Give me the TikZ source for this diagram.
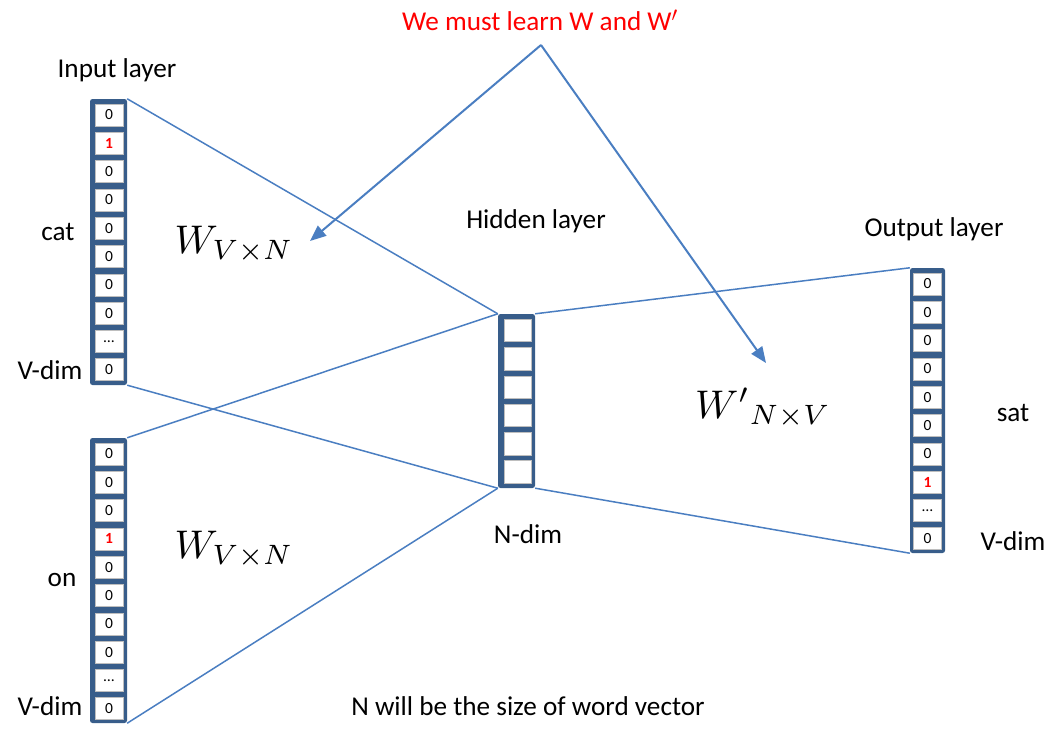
\documentclass[tikz,border=0pt]{standalone}
\usepackage{fontspec}
\setmainfont{Carlito}
\usetikzlibrary{arrows.meta}
\definecolor{vecblue}{RGB}{56,93,138}
\definecolor{linkblue}{RGB}{74,126,193}
\definecolor{cellgray}{RGB}{190,190,190}
\begin{document}
\begin{tikzpicture}[x=1pt,y=-1pt,
  lbl/.style={font=\fontsize{27.2}{32}\selectfont, inner sep=0},
  mathlbl/.style={font=\normalsize, inner sep=0},
  vframe/.style={fill=vecblue, draw=none, rounded corners=2.5pt, inner sep=0, minimum width=37pt},
  cell/.style={fill=white, draw=cellgray, line width=0.6pt, minimum width=28pt, minimum height=22pt, inner sep=0, font=\fontsize{15.5}{18}\selectfont},
  hcell/.style={fill=white, draw=cellgray, line width=0.6pt, minimum width=27pt, minimum height=22.5pt, inner sep=0},
  zero/.style={},
  one/.style={text=red, font=\fontsize{15.5}{18}\selectfont\bfseries},
  link/.style={draw=linkblue, line width=1.5pt},
  pointer/.style={draw=linkblue, line width=2pt, -{Triangle[length=16pt,width=13pt]}}]

\useasboundingbox (0,0) rectangle (1051,728);

% vector frames
\node[vframe, minimum height=286pt] (in1) at (108.5,242) {};
\node[vframe, minimum height=285pt] (in2) at (108.5,580.5) {};
\node[vframe, minimum height=174pt] (hid) at (516.5,401) {};
\node[vframe, minimum width=35pt, minimum height=285pt] (out) at (927.5,410.5) {};

% cells
\foreach \v/\s [count=\i from 0] in {0/zero,1/one,0/zero,0/zero,0/zero,0/zero,0/zero,0/zero,\dots/zero,0/zero}
  \node[cell,\s] (in1c\i) at (109,{115+28.3*\i}) {\v};
\foreach \v/\s [count=\i from 0] in {0/zero,0/zero,0/zero,1/one,0/zero,0/zero,0/zero,0/zero,\dots/zero,0/zero}
  \node[cell,\s] (in2c\i) at (109,{454+28.3*\i}) {\v};
\foreach \v/\s [count=\i from 0] in {0/zero,0/zero,0/zero,0/zero,0/zero,0/zero,0/zero,1/one,\dots/zero,0/zero}
  \node[cell,\s] (outc\i) at (927.5,{284+28.3*\i}) {\v};
\foreach \i in {0,...,5}
  \node[hcell] (hc\i) at (517.5,{330.5+28.3*\i}) {};

% connectors
\draw[link] (in1.north east) -- (hid.north west);
\draw[link] (in1.south east) -- (hid.south west);
\draw[link] (in2.north east) -- (hid.north west);
\draw[link] (in2.south east) -- (hid.south west);
\draw[link] (hid.north east) -- (out.north west);
\draw[link] (hid.south east) -- (out.south west);

% labels
\node[lbl, text=red] (title) at (540,20) {We must learn W and W$'$};
\node[lbl] (inlbl) at (117,70) {Input layer};
\node[lbl] (cat) at (58,232) {cat};
\node[lbl] (vdim1) at (50,370) {V-dim};
\node[lbl] (on) at (62,580) {on};
\node[lbl] (vdim2) at (50,706) {V-dim};
\node[lbl] (hidlbl) at (536,221) {Hidden layer};
\node[lbl] (outlbl) at (934,229) {Output layer};
\node[lbl] (sat) at (1013,413) {sat};
\node[lbl] (vdim3) at (1013,541) {V-dim};
\node[lbl] (ndim) at (528,534) {N-dim};
\node[lbl] (note) at (528,706) {N will be the size of word vector};

\node[mathlbl] (w1) at (234,244) {\scalebox{4}{$W_{V\times N}$}};
\node[mathlbl] (w2) at (234,549) {\scalebox{4}{$W_{V\times N}$}};
\node[mathlbl] (w3) at (763,408) {\scalebox{4}{${W'}_{N\times V}$}};

% arrows
\coordinate (src) at (541,45);
\coordinate (tipA) at (310,241);
\coordinate (tipB) at (766,363);
\draw[pointer] (src) -- (tipA);
\draw[pointer] (src) -- (tipB);
\end{tikzpicture}
\end{document}
